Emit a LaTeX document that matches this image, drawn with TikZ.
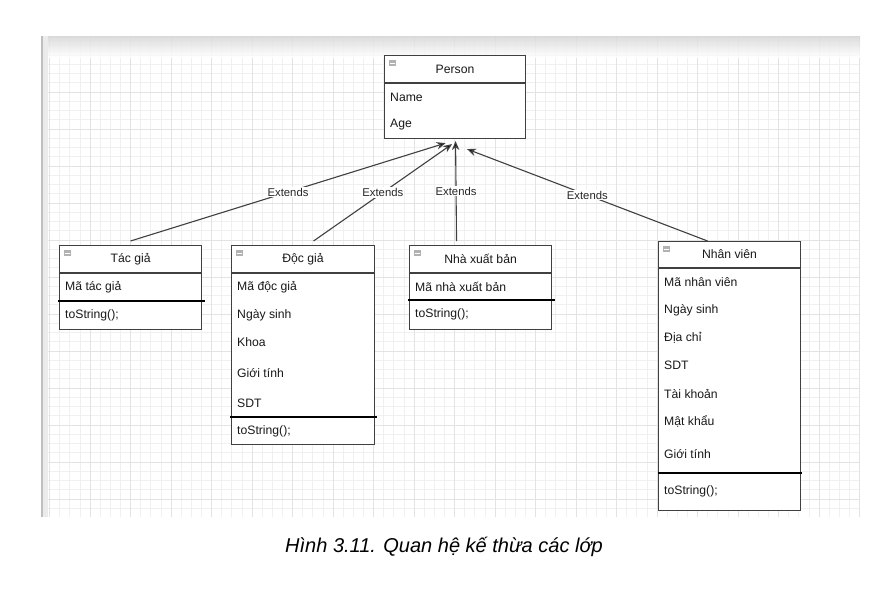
\documentclass[tikz,border=0pt]{standalone}
\usepackage{fontspec}
\setmainfont{Liberation Sans}
\usetikzlibrary{arrows.meta,calc}

\begin{document}
\begin{tikzpicture}[x=1pt,y=-1pt,
		classbox/.style={draw=black!75, line width=1.1pt, fill=white, inner sep=0pt, anchor=north west},
		title/.style={font=\fontsize{12.2}{14}\selectfont, text=black!90, inner sep=1pt},
		attr/.style={font=\fontsize{12.2}{14}\selectfont, text=black!90, anchor=west, inner sep=0pt},
		sep/.style={draw=black!75, line width=1.1pt},
		thicksep/.style={draw=black, line width=2pt},
		ext/.style={draw=black!75, line width=1.1pt, -{Stealth[length=9pt,width=7.5pt,fill=black]}},
		extlabel/.style={font=\fontsize{11.3}{13}\selectfont, text=black!85, fill=white, inner sep=1pt},
		minorgrid/.style={black!6, line width=0.6pt},
		majorgrid/.style={black!11, line width=0.8pt}]
		\useasboundingbox (0,0) rectangle (889,597);
		% background grid of the editor
		\begin{scope}
			\clip (41,36) rectangle (860,517);
			\fill[white] (41,36) rectangle (860,517);
			\foreach \x in {49.5,59.625,...,860}
				\draw[minorgrid] (\x,36) -- (\x,517);
			\foreach \y in {36.5,45.75,...,517}
				\draw[minorgrid] (41,\y) -- (860,\y);
			\foreach \x in {49.5,90,...,860}
				\draw[majorgrid] (\x,36) -- (\x,517);
			\foreach \y in {55,92,...,517}
				\draw[majorgrid] (41,\y) -- (860,\y);
			\shade[top color=black!16, bottom color=white, opacity=0.85] (41,36) rectangle (860,57);
			\fill[black!8] (43,36) rectangle (48,517);
			\fill[black!25] (41,36) rectangle (43,517);
		\end{scope}
		%
		% class boxes
		\node[classbox, minimum width=141pt, minimum height=83pt] (person) at (384,55) {};
		\node[classbox, minimum width=142pt, minimum height=84pt] (tacgia) at (59,245) {};
		\node[classbox, minimum width=143pt, minimum height=199pt] (docgia) at (231,245) {};
		\node[classbox, minimum width=142pt, minimum height=84pt] (nxb) at (409,245) {};
		\node[classbox, minimum width=142pt, minimum height=269pt] (nhanvien) at (658,241) {};
		%
		\foreach \b/\h/\t in {person/28/Person, tacgia/28/Tác giả, docgia/28/Độc giả, nxb/28/Nhà xuất bản, nhanvien/27/Nhân viên}{
			\draw[sep] ($(\b.north west)+(0,\h)$) -- ($(\b.north east)+(0,\h)$);
			\fill[black!30] ($(\b.north west)+(5,5)$) rectangle +(7,6);
			\draw[white, line width=0.8pt] ($(\b.north west)+(6,8)$) -- +(5,0);
			\node[title] (\b-title) at ($(\b.north)+(0,\h/2)$) {\t};
		}
		%
		% attributes
		\foreach \t/\y [count=\i] in {Name/97, Age/125}
			\node[attr] (person-\i) at (390,\y) {\t};
		\node[attr] (tacgia-1) at (65,287) {Mã tác giả};
		\foreach \t/\y [count=\i] in {Mã độc giả/287, Ngày sinh/315, Khoa/342, Giới tính/373, SDT/403}
			\node[attr] (docgia-\i) at (237,\y) {\t};
		\node[attr] (nxb-1) at (415,287) {Mã nhà xuất bản};
		\foreach \t/\y [count=\i] in {Mã nhân viên/282, Ngày sinh/310, Địa chỉ/338, SDT/365, Tài khoản/394, Mật khẩu/421, Giới tính/454}
			\node[attr] (nhanvien-\i) at (664,\y) {\t};
		%
		% methods
		\draw[thicksep] ($(tacgia.north west)+(-1,56)$) -- ($(tacgia.north east)+(3,56)$);
		\draw[thicksep] ($(docgia.north west)+(-1,172)$) -- ($(docgia.north east)+(2,172)$);
		\draw[thicksep] ($(nxb.north west)+(-1,55)$) -- ($(nxb.north east)+(3,55)$);
		\draw[thicksep] ($(nhanvien.north west)+(0,232)$) -- ($(nhanvien.north east)+(1,232)$);
		\node[attr] (tacgia-m) at (65,315) {toString();};
		\node[attr] (docgia-m) at (237,431) {toString();};
		\node[attr] (nxb-m) at (415,314) {toString();};
		\node[attr] (nhanvien-m) at (664,491) {toString();};
		%
		% inheritance
		\draw[ext] ($(tacgia.north)+(0,-4)$) -- node[extlabel] (ext-tacgia) {Extends} ($(person.south)+(-9.5,4)$);
		\draw[ext] ($(docgia.north)+(10.5,-4)$) -- node[extlabel] (ext-docgia) {Extends} ($(person.south)+(-3,5)$);
		\draw[ext] ($(nxb.north)+(-24,-4)$) -- node[extlabel] (ext-nxb) {Extends} ($(person.south)+(0.5,2)$);
		\draw[ext] ($(nhanvien.north)+(-22,0)$) -- node[extlabel] (ext-nhanvien) {Extends} ($(person.south)+(12,10)$);
		%
		\node[font=\fontsize{20}{22}\selectfont\itshape] (caption) at (444,547) {Hình 3.11. Quan hệ kế thừa các lớp};
	\end{tikzpicture}
\end{document}
